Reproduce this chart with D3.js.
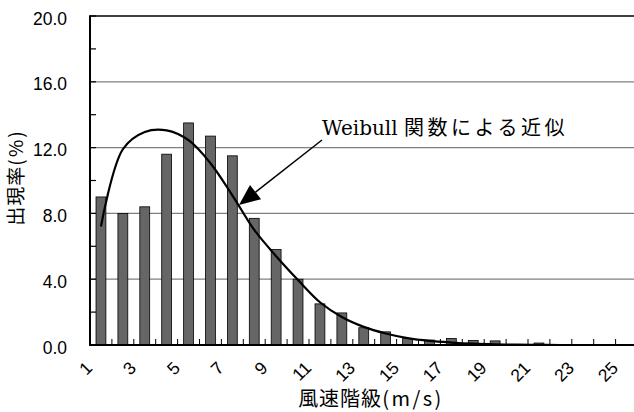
<!DOCTYPE html>
<html>
<head>
<meta charset="utf-8">
<script src="https://cdn.jsdelivr.net/npm/d3@7"></script>
<style>
  body { margin: 0; background: #fff; }
  svg { display: block; }
</style>
</head>
<body>
<svg id="chart" width="634" height="412"></svg>
<script>
// wind speed classes (m/s)
var speedClasses = [1, 2, 3, 4, 5, 6, 7, 8, 9, 10, 11, 12, 13, 14, 15, 16, 17, 18, 19, 20, 21, 22, 23, 24, 25];
// observed frequency (%)
var frequency = [9.0, 8.0, 8.4, 11.6, 13.5, 12.7, 11.5, 7.7, 5.8, 4.0, 2.5, 1.95, 1.05, 0.8, 0.4, 0.3, 0.4, 0.28, 0.25, 0.03, 0.12, 0, 0, 0, 0];
// Weibull fit (%)
var weibullFit = [7.2, 11.9, 12.95, 13.05, 12.45, 11.05, 9.1, 7.0, 5.4, 3.95, 2.6, 1.7, 1.1, 0.7, 0.42, 0.25, 0.15, 0.08, 0.04, 0.02, 0.01, 0, 0, 0, 0];
var yMajorTicks = [0, 4, 8, 12, 16, 20];
var yMinorTicks = [2, 6, 10, 14, 18];
var xLabelClasses = [1, 3, 5, 7, 9, 11, 13, 15, 17, 19, 21, 23, 25];

var svg = d3.select('#chart');
var plot = { left: 90, top: 16, bottom: 345, step: 21.9 };
var latin = '"Liberation Sans", Arial, sans-serif';
var cjk = '"Noto Sans CJK JP", sans-serif';

var x = d3.scaleBand()
	.domain(speedClasses)
	.range([plot.left, plot.left + plot.step * speedClasses.length])
	.paddingInner(0.55)
	.paddingOuter(0.275);
var y = d3.scaleLinear().domain([0, 20]).range([plot.bottom, plot.top]);
var xc = function(d) { return x(d) + x.bandwidth() / 2; };

// gridlines
svg.append('g').selectAll('line')
	.data(yMajorTicks.filter(function(d) { return d > 0 && d < 20; }))
	.enter().append('line')
	.attr('x1', plot.left).attr('x2', 634)
	.attr('y1', function(d) { return y(d); }).attr('y2', function(d) { return y(d); })
	.style('stroke', '#808080').style('stroke-width', 1.2);

// top border
svg.append('line')
	.attr('x1', plot.left - 1).attr('x2', 634)
	.attr('y1', y(20)).attr('y2', y(20))
	.style('stroke', '#000').style('stroke-width', 1.6);

// bars
svg.append('g').selectAll('rect')
	.data(speedClasses)
	.enter().append('rect')
	.attr('x', function(d) { return x(d); })
	.attr('width', x.bandwidth())
	.attr('y', function(d, i) { return y(frequency[i]); })
	.attr('height', function(d, i) { return plot.bottom - y(frequency[i]); })
	.style('fill', '#666666').style('stroke', '#000').style('stroke-width', 0.8);

// y axis ticks (inward)
svg.append('g').selectAll('line')
	.data(yMajorTicks.concat(yMinorTicks))
	.enter().append('line')
	.attr('x1', plot.left).attr('x2', plot.left + 6)
	.attr('y1', function(d) { return y(d); }).attr('y2', function(d) { return y(d); })
	.style('stroke', '#000').style('stroke-width', 1.2);

// x axis ticks (inward, at class boundaries)
svg.append('g').selectAll('line')
	.data(speedClasses)
	.enter().append('line')
	.attr('x1', function(d) { return xc(d) + plot.step / 2; })
	.attr('x2', function(d) { return xc(d) + plot.step / 2; })
	.attr('y1', plot.bottom).attr('y2', plot.bottom - 6)
	.style('stroke', '#000').style('stroke-width', 1);

// weibull curve
var line = d3.line()
	.x(function(d) { return xc(d); })
	.y(function(d, i) { return y(weibullFit[i]); })
	.curve(d3.curveCatmullRom);
svg.append('path')
	.datum(speedClasses)
	.attr('d', line)
	.style('fill', 'none').style('stroke', '#000').style('stroke-width', 2.2);

// axis lines
svg.append('line')
	.attr('x1', plot.left).attr('x2', plot.left)
	.attr('y1', plot.top).attr('y2', plot.bottom + 1)
	.style('stroke', '#000').style('stroke-width', 2);
svg.append('line')
	.attr('x1', plot.left - 1).attr('x2', 634)
	.attr('y1', plot.bottom).attr('y2', plot.bottom)
	.style('stroke', '#000').style('stroke-width', 2);

// y tick labels
svg.append('g').selectAll('text')
	.data(yMajorTicks)
	.enter().append('text')
	.attr('x', 67)
	.attr('y', function(d) { return y(d) + 8.5; })
	.attr('text-anchor', 'end')
	.style('font-family', latin).style('font-size', '17.5px')
	.text(function(d) { return d.toFixed(1); });

// x tick labels (rotated)
svg.append('g').selectAll('text')
	.data(xLabelClasses)
	.enter().append('text')
	.attr('text-anchor', 'end')
	.attr('transform', function(d) {
		return 'translate(' + [xc(d) - 7.5, plot.bottom + 24] + ') rotate(-45)';
	})
	.style('font-family', latin).style('font-size', '17.5px')
	.text(function(d) { return d; });

// axis titles
var yTitle = svg.append('text')
	.attr('transform', 'translate(' + [23, 177.5] + ') rotate(-90)')
	.attr('text-anchor', 'middle')
	.style('font-family', cjk).style('font-size', '19px');
yTitle.append('tspan').style('letter-spacing', '1px').text('出現率');
yTitle.append('tspan').style('letter-spacing', '2px').text('(%)');

var xTitle = svg.append('text')
	.attr('x', 371).attr('y', 406)
	.attr('text-anchor', 'middle')
	.style('font-family', cjk).style('font-size', '20px');
xTitle.append('tspan').style('letter-spacing', '1px').text('風速階級');
xTitle.append('tspan').style('letter-spacing', '2.5px').text('(m/s)');

// annotation
var note = svg.append('text')
	.attr('x', 322).attr('y', 135)
	.style('font-family', '"DejaVu Serif", serif').style('font-size', '20px');
note.append('tspan').text('Weibull ');
note.append('tspan').style('font-family', cjk).style('letter-spacing', '3.5px').text('関数による近似');

var from = [322, 140], tip = [239, 205];
var ang = Math.atan2(tip[1] - from[1], tip[0] - from[0]);
var headLen = 21, headW = 9;
var base = [tip[0] - headLen * Math.cos(ang), tip[1] - headLen * Math.sin(ang)];
svg.append('line')
	.attr('x1', from[0]).attr('y1', from[1])
	.attr('x2', base[0]).attr('y2', base[1])
	.style('stroke', '#000').style('stroke-width', 1.5);
svg.append('polygon')
	.attr('points', [
		tip,
		[base[0] + headW * Math.sin(ang), base[1] - headW * Math.cos(ang)],
		[base[0] - headW * Math.sin(ang), base[1] + headW * Math.cos(ang)]
	].map(function(p) { return p.join(','); }).join(' '))
	.style('fill', '#000');
</script>
</body>
</html>
